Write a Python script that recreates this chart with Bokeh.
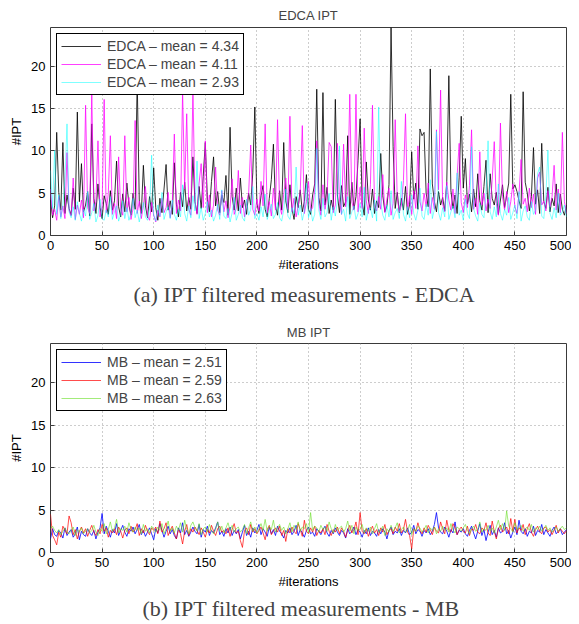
from bokeh.plotting import figure
from bokeh.layouts import column
from bokeh.models import Range1d, Legend, LegendItem, Title, FixedTicker
from bokeh.embed import file_html
from bokeh.resources import INLINE

iterations = list(range(0, 501, 2))
x_ticks = [0, 50, 100, 150, 200, 250, 300, 350, 400, 450, 500]
y_ticks = [0, 5, 10, 15, 20]

edca_labels = ["EDCA \u2013 mean = 4.34", "EDCA \u2013 mean = 4.11", "EDCA \u2013 mean = 2.93"]
mb_labels = ["MB \u2013 mean = 2.51", "MB \u2013 mean = 2.59", "MB \u2013 mean = 2.63"]

edca_black = [
    4.2, 2.1, 3.5, 12.2, 5.1, 3.0, 11.0, 2.6, 4.8, 3.2,
    2.4, 5.6, 3.1, 14.6, 4.0, 8.5, 2.8, 3.6, 5.2, 2.3,
    13.2, 4.4, 2.6, 6.1, 3.3, 2.0, 4.7, 3.8, 2.5, 5.3,
    3.0, 4.1, 8.8, 3.4, 2.2, 4.9, 2.8, 6.2, 3.6, 2.4,
    5.0, 3.1, 18.5, 4.2, 2.6, 8.3, 3.5, 2.1, 4.6, 2.8,
    8.0, 3.3, 1.8, 4.4, 2.7, 5.5, 8.4, 3.0, 4.1, 2.5,
    8.6, 3.7, 2.2, 5.1, 3.4, 6.3, 2.9, 4.5, 3.1, 9.3,
    4.0, 2.6, 5.8, 3.2, 7.0, 11.0, 4.3, 2.8, 6.4, 9.3,
    3.5, 5.2, 2.7, 4.8, 3.9, 7.1, 2.4, 12.8, 4.6, 3.0,
    5.6, 2.9, 6.8, 3.3, 4.2, 2.5, 5.0, 3.6, 7.4, 15.2,
    3.8, 2.6, 4.7, 5.9, 3.1, 2.2, 4.4, 6.6, 10.8, 3.5,
    2.4, 5.3, 3.0, 11.0, 4.1, 2.7, 6.0, 3.2, 1.9, 4.6,
    3.3, 5.4, 2.8, 4.0, 7.2, 3.1, 2.5, 4.8, 6.1, 17.3,
    4.5, 2.9, 16.9, 3.6, 5.7, 2.6, 4.2, 3.0, 16.1, 4.8,
    2.7, 5.9, 3.4, 4.0, 11.8, 2.5, 6.3, 3.1, 4.6, 8.9,
    13.8, 3.9, 2.4, 8.7, 4.2, 3.0, 5.5, 2.6, 4.1, 3.3,
    9.7, 4.7, 2.8, 3.5, 6.0, 24.6, 10.5, 3.2, 5.1, 2.7,
    4.4, 3.0, 5.8, 2.5, 3.7, 9.9, 4.3, 6.2, 3.1, 12.6,
    11.8, 12.2, 5.0, 3.4, 19.7, 6.1, 4.0, 2.8, 5.2, 3.6,
    4.5, 2.9, 6.4, 18.9, 5.3, 3.2, 4.8, 2.6, 6.9, 14.1,
    5.6, 9.1, 3.7, 4.9, 2.8, 5.5, 3.4, 7.3, 4.1, 3.0,
    5.8, 8.9, 2.7, 7.3, 4.4, 3.6, 5.1, 2.5, 4.2, 6.0,
    3.3, 4.7, 6.2, 16.7, 5.5, 6.0, 5.2, 4.1, 3.2, 17.0,
    6.3, 5.0, 2.9, 4.6, 10.4, 3.7, 5.4, 2.6, 10.9, 4.0,
    3.2, 5.7, 2.8, 4.4, 3.5, 6.1, 2.7, 4.9, 3.1, 2.4,
    3.6,
]

edca_magenta = [
    5.5, 2.4, 3.1, 1.8, 4.6, 2.2, 3.5, 2.0, 9.8, 3.0,
    2.3, 6.8, 1.9, 3.6, 2.5, 4.2, 2.1, 15.4, 3.3, 2.6,
    16.8, 2.9, 4.0, 11.2, 2.2, 3.4, 16.1, 2.7, 5.0, 11.8,
    2.5, 3.8, 2.0, 9.3, 3.1, 2.4, 11.8, 2.8, 4.5, 1.9,
    3.2, 13.6, 2.6, 4.1, 2.0, 3.5, 5.8, 2.3, 1.8, 3.9,
    2.4, 1.6, 3.0, 2.2, 4.4, 2.7, 3.3, 5.1, 2.1, 3.7,
    12.0, 2.6, 4.2, 2.9, 17.1, 5.5, 14.4, 3.1, 2.4, 17.3,
    4.0, 2.5, 6.2, 8.5, 3.3, 11.2, 2.7, 4.8, 2.2, 3.6,
    8.1, 3.0, 2.4, 5.3, 2.8, 4.1, 2.1, 3.4, 6.7, 2.5,
    3.2, 7.7, 2.6, 4.5, 2.2, 3.8, 5.0, 10.7, 3.1, 2.4,
    4.3, 2.9, 6.4, 3.5, 13.2, 2.7, 4.0, 2.3, 5.6, 3.0,
    13.7, 3.6, 2.5, 4.9, 6.8, 3.1, 14.1, 2.8, 4.4, 2.2,
    3.5, 5.1, 13.0, 2.6, 4.0, 6.4, 2.9, 3.3, 5.4, 11.2,
    3.8, 2.4, 6.0, 3.1, 4.7, 11.0, 10.5, 2.7, 3.6, 10.9,
    4.2, 2.5, 10.8, 3.4, 5.2, 16.7, 4.0, 3.0, 16.7, 2.8,
    5.7, 3.2, 12.7, 4.1, 2.6, 6.0, 15.4, 3.5, 2.9, 4.6,
    3.1, 7.2, 2.7, 4.3, 5.6, 2.4, 3.8, 13.7, 4.4, 2.8,
    3.6, 6.5, 14.4, 3.0, 4.7, 2.5, 5.3, 3.2, 10.6, 4.0,
    2.9, 5.0, 3.4, 6.2, 2.6, 4.5, 3.1, 12.5, 5.4, 17.2,
    3.7, 2.8, 6.3, 4.2, 3.0, 5.5, 2.6, 7.0, 10.9, 3.9,
    2.7, 4.8, 3.3, 5.9, 12.5, 3.1, 4.4, 2.5, 9.9, 3.6,
    5.0, 2.9, 4.3, 3.2, 6.6, 11.1, 3.8, 2.4, 13.3, 4.6,
    3.0, 5.2, 2.7, 4.0, 6.1, 3.4, 2.6, 5.0, 9.0, 3.7,
    4.4, 2.8, 5.6, 3.3, 4.9, 2.5, 6.8, 7.5, 3.6, 4.1,
    2.9, 5.3, 3.4, 4.6, 8.3, 3.0, 5.5, 2.7, 12.2, 4.0,
    2.6,
]

edca_cyan = [
    7.7, 3.2, 10.1, 2.5, 4.8, 2.0, 3.6, 6.5, 13.2, 2.8,
    2.1, 3.4, 1.8, 4.0, 2.6, 1.7, 3.1, 2.3, 5.2, 1.9,
    2.7, 3.8, 1.6, 2.4, 4.3, 2.0, 1.8, 3.0, 2.2, 4.6,
    1.9, 2.8, 3.5, 1.7, 2.5, 4.1, 2.0, 3.3, 1.8, 2.6,
    4.4, 2.1, 3.0, 1.6, 2.7, 3.9, 2.2, 1.8, 3.2, 9.5,
    2.4, 1.7, 3.6, 2.3, 5.1, 1.9, 2.8, 3.4, 2.0, 4.2,
    2.5, 1.8, 3.1, 2.2, 6.0, 2.6, 1.7, 3.5, 2.1, 4.7,
    2.9, 8.8, 2.0, 3.3, 1.8, 2.6, 4.0, 2.2, 3.0, 1.7,
    2.4, 3.7, 1.9, 5.4, 2.3, 2.0, 3.2, 1.6, 2.7, 4.5,
    1.8, 2.5, 3.6, 2.1, 1.7, 4.3, 2.4, 3.1, 5.8, 2.0,
    2.6, 1.8, 3.4, 2.2, 4.9, 1.9, 2.8, 3.7, 2.0, 2.5,
    3.9, 2.1, 1.7, 3.0, 5.5, 2.3, 1.9, 3.3, 2.6, 8.1,
    2.4, 3.6, 1.8, 2.9, 6.2, 2.1, 3.2, 1.7, 2.5, 10.3,
    3.0, 1.9, 4.4, 2.2, 2.7, 5.0, 1.8, 3.4, 2.3, 4.1,
    10.6, 2.5, 3.1, 1.7, 4.6, 2.0, 2.8, 3.5, 1.9, 2.6,
    3.8, 2.2, 5.7, 1.8, 2.9, 3.3, 2.1, 4.2, 1.7, 15.2,
    4.0, 2.4, 1.8, 3.6, 2.2, 5.3, 1.9, 2.7, 3.2, 2.0,
    6.4, 2.5, 1.7, 3.4, 2.1, 4.8, 2.6, 1.8, 3.0, 5.6,
    2.3, 1.9, 3.7, 2.4, 6.6, 2.0, 3.1, 12.3, 2.7, 1.8,
    3.3, 2.2, 5.9, 1.9, 2.8, 3.5, 2.1, 7.4, 2.4, 3.0,
    1.8, 4.3, 2.6, 2.0, 10.5, 3.2, 2.3, 1.7, 3.8, 2.5,
    2.1, 5.0, 11.2, 2.8, 1.9, 3.4, 2.2, 6.1, 2.6, 1.8,
    3.1, 2.4, 4.5, 1.9, 2.7, 3.6, 2.0, 5.2, 1.7, 2.9,
    3.5, 2.2, 1.8, 4.0, 2.5, 3.0, 7.3, 8.1, 2.3, 2.0,
    4.7, 10.1, 2.6, 1.9, 3.3, 2.1, 5.0, 2.4, 2.8, 3.6,
    2.2,
]

mb_blue = [
    1.6, 2.8, 2.1, 1.9, 2.6, 2.3, 1.7, 2.9, 2.0, 2.4,
    2.7, 1.8, 2.2, 3.0, 1.5, 2.5, 2.1, 1.9, 2.8, 2.3,
    2.0, 2.6, 1.6, 2.4, 2.9, 4.6, 2.2, 3.1, 2.5, 1.8,
    2.7, 2.3, 3.4, 2.0, 2.6, 3.2, 2.4, 1.9, 2.8, 2.5,
    3.0, 2.2, 2.7, 3.3, 2.1, 2.6, 1.9, 2.4, 2.9, 2.2,
    1.5, 2.8, 2.3, 3.4, 2.6, 1.8, 2.5, 3.1, 2.2, 2.7,
    2.0, 1.6, 2.9, 2.3, 3.5, 2.1, 2.6, 1.9, 2.4, 3.0,
    2.5, 2.2, 3.3, 1.8, 2.7, 2.4, 3.1, 2.0, 2.6, 2.3,
    2.9, 3.6, 2.1, 2.5, 1.9, 2.8, 2.3, 3.0, 2.0, 2.6,
    2.2, 2.7, 1.6, 2.4, 3.2, 2.0, 2.5, 1.8, 2.9, 2.3,
    2.6, 3.3, 2.1, 2.8, 2.4, 1.9, 3.0, 2.2, 2.7, 2.0,
    3.1, 2.5, 2.2, 1.7, 2.6, 2.3, 2.9, 2.1, 2.5, 3.2,
    2.0, 2.7, 2.3, 1.8, 2.6, 3.0, 2.2, 2.4, 1.9, 2.8,
    2.5, 2.1, 2.7, 3.1, 2.3, 1.9, 2.6, 2.2, 2.9, 2.4,
    2.0, 2.6, 2.3, 1.7, 2.8, 2.2, 2.5, 3.0, 2.1, 2.7,
    2.4, 1.8, 2.6, 2.2, 2.9, 2.0, 2.5, 2.3, 1.9, 2.7,
    2.2, 2.8, 2.4, 1.6, 2.6, 3.0, 2.1, 2.5, 2.3, 2.8,
    2.0, 2.6, 2.3, 2.9, 2.1, 2.4, 3.2, 2.2, 2.7, 2.5,
    1.9, 2.6, 2.3, 2.8, 2.1, 2.5, 3.3, 4.7, 2.9, 2.4,
    2.2, 3.0, 2.5, 1.8, 2.7, 2.3, 3.6, 2.1, 2.6, 2.4,
    2.8, 2.2, 1.9, 2.6, 3.1, 2.3, 1.6, 2.5, 3.4, 2.0,
    2.7, 1.4, 2.4, 3.2, 2.1, 2.6, 1.8, 2.9, 2.3, 2.5,
    3.5, 2.2, 2.6, 1.7, 2.4, 3.0, 2.1, 3.8, 2.5, 2.2,
    2.8, 1.9, 2.5, 2.3, 3.1, 2.0, 2.6, 2.4, 3.3, 2.1,
    2.7, 2.3, 1.9, 2.6, 3.0, 2.2, 2.5, 2.8, 2.1, 2.4,
    2.7,
]

mb_red = [
    4.5, 2.0, 1.5, 0.9, 2.4, 1.8, 3.1, 2.6, 2.2, 4.3,
    3.5, 2.1, 2.7, 1.6, 2.5, 3.0, 2.3, 2.8, 1.9, 2.6,
    3.2, 2.4, 2.0, 2.7, 2.2, 3.3, 2.5, 2.9, 1.8, 2.6,
    2.3, 2.8, 2.1, 3.0, 2.5, 1.7, 2.6, 2.9, 2.2, 3.1,
    2.4, 2.7, 3.4, 2.0, 2.8, 2.3, 3.2, 2.5, 2.1, 2.9,
    2.6, 3.0, 2.2, 3.7, 2.4, 2.8, 3.5, 2.0, 2.6, 3.1,
    2.3, 1.6, 2.7, 2.2, 1.0, 2.5, 3.3, 2.0, 2.8, 2.4,
    3.0, 2.6, 2.1, 2.9, 2.4, 1.8, 2.7, 2.3, 3.2, 2.5,
    2.0, 2.8, 3.1, 2.4, 2.6, 2.2, 2.9, 1.9, 2.7, 3.4,
    2.3, 2.5, 1.4, 0.6, 2.6, 2.9, 2.1, 3.3, 2.4, 2.8,
    2.2, 2.6, 3.0, 2.3, 1.5, 2.7, 3.2, 2.1, 2.5, 2.9,
    2.4, 3.1, 2.0, 2.6, 1.3, 2.8, 2.3, 3.0, 2.5, 2.2,
    3.4, 2.7, 1.9, 3.8, 2.5, 2.2, 2.9, 2.4, 3.1, 2.0,
    2.6, 2.3, 2.8, 2.1, 3.3, 2.5, 2.0, 2.7, 2.4, 3.0,
    2.2, 2.9, 2.5, 1.8, 2.6, 3.2, 2.3, 2.7, 3.6, 2.1,
    4.7, 2.5, 2.2, 2.8, 1.9, 2.6, 3.1, 2.3, 2.7, 2.0,
    2.9, 2.4, 3.3, 2.1, 2.6, 2.8, 2.2, 3.0, 2.5, 3.4,
    2.3, 2.7, 3.9, 2.4, 2.0, 0.4, 2.8, 2.5, 3.5, 2.6,
    2.2, 2.9, 2.4, 3.2, 2.7, 2.1, 3.0, 2.5, 2.3, 3.6,
    2.8, 2.2, 3.8, 2.6, 2.4, 3.4, 2.9, 2.1, 2.7, 3.0,
    2.5, 2.3, 3.1, 2.0, 2.8, 2.6, 3.3, 2.4, 2.2, 2.9,
    2.6, 3.5, 2.3, 2.0, 3.7, 2.5, 1.6, 2.8, 3.2, 2.4,
    2.7, 3.0, 2.2, 4.0, 2.5, 3.9, 2.3, 2.9, 2.6, 3.3,
    2.1, 2.8, 3.4, 2.4, 1.9, 2.7, 3.1, 2.5, 2.2, 2.9,
    3.0, 2.4, 2.7, 2.1, 2.6, 3.2, 2.3, 2.8, 2.5, 2.2,
    2.6,
]

mb_green = [
    2.8, 3.1, 2.6, 2.3, 2.7, 2.1, 2.5, 2.9, 2.4, 2.2,
    2.6, 3.0, 2.0, 2.7, 2.4, 2.9, 2.2, 2.5, 2.8, 2.3,
    2.6, 3.2, 2.4, 2.0, 2.8, 2.5, 3.4, 2.2, 2.7, 3.6,
    2.5, 2.9, 3.9, 2.3, 2.8, 2.6, 3.1, 2.4, 3.5, 2.7,
    2.4, 3.0, 2.6, 2.9, 2.2, 3.3, 2.5, 2.8, 2.3, 3.1,
    2.7, 2.4, 3.0, 2.6, 3.4, 2.2, 2.8, 3.7, 2.5, 2.9,
    2.3, 3.1, 2.6, 3.5, 2.4, 3.8, 2.7, 2.2, 3.2, 3.6,
    2.9, 2.5, 3.4, 2.1, 2.8, 3.0, 2.4, 3.3, 2.6, 2.2,
    2.7, 3.6, 2.5, 3.1, 2.3, 2.9, 3.5, 2.6, 3.2, 2.4,
    2.8, 3.0, 2.4, 2.7, 3.3, 2.2, 2.9, 3.6, 2.5, 3.0,
    2.3, 2.8, 3.4, 2.6, 3.9, 2.5, 3.1, 2.7, 3.8, 2.4,
    2.9, 3.3, 2.6, 3.0, 2.2, 2.8, 3.5, 2.4, 3.2, 2.7,
    3.6, 2.5, 3.0, 2.8, 3.4, 2.3, 4.7, 2.6, 3.1, 2.9,
    2.4, 3.2, 2.7, 3.0, 2.5, 3.6, 2.8, 2.3, 3.3, 2.6,
    2.9, 3.1, 2.4, 2.8, 3.7, 2.5, 3.2, 2.2, 3.0, 2.6,
    2.7, 3.3, 2.3, 2.9, 2.5, 3.0, 2.2, 2.8, 3.4, 2.4,
    2.6, 3.1, 2.0, 2.8, 2.4, 3.2, 2.5, 2.9, 3.5, 2.3,
    2.7, 3.0, 2.4, 2.6, 3.3, 2.1, 2.8, 2.5, 3.1, 2.9,
    2.4, 2.7, 3.2, 2.3, 2.9, 2.6, 3.0, 2.2, 2.8, 2.5,
    3.1, 2.6, 2.9, 2.4, 3.4, 2.7, 2.3, 3.0, 2.8, 2.5,
    2.9, 3.3, 2.6, 2.2, 2.8, 3.1, 2.5, 2.7, 3.6, 2.4,
    2.8, 2.6, 3.2, 2.5, 2.9, 2.3, 3.0, 3.8, 2.7, 3.4,
    2.6, 4.9, 3.1, 2.8, 2.4, 3.5, 2.7, 2.9, 3.2, 2.5,
    2.8, 3.0, 2.6, 3.3, 2.4, 2.9, 2.7, 3.1, 2.5, 2.8,
    3.2, 2.6, 2.9, 2.4, 2.7, 3.0, 2.5, 2.8, 3.1, 2.7,
    2.9,
]

FONT = "Liberation Sans"


def make_fig(title, caption, series, colors, alphas, labels, height,
             border_top, border_bottom, title_standoff, cap_offset, cap_standoff):
    p = figure(width=571, height=height, output_backend="svg", toolbar_location=None,
               x_range=Range1d(0, 500), y_range=Range1d(0, 24.6),
               min_border_left=50, min_border_right=5,
               min_border_top=border_top, min_border_bottom=border_bottom,
               x_axis_label="#iterations", y_axis_label="#IPT")
    p.title.text = title
    p.title.text_font = FONT
    p.title.text_font_size = "13px"
    p.title.text_font_style = "normal"
    p.title.align = "center"
    p.title.standoff = title_standoff

    p.outline_line_color = "#3a3a3a"
    p.outline_line_width = 1
    p.outline_line_alpha = 1
    p.background_fill_color = "white"
    p.border_fill_color = "white"

    p.xaxis.ticker = FixedTicker(ticks=x_ticks)
    p.yaxis.ticker = FixedTicker(ticks=y_ticks)
    for ax in p.axis:
        ax.axis_line_color = None
        ax.major_tick_in = 4
        ax.major_tick_out = 0
        ax.major_tick_line_color = "#3a3a3a"
        ax.minor_tick_line_color = None
        ax.major_label_text_font = FONT
        ax.major_label_text_font_size = "13px"
        ax.major_label_text_color = "black"
        ax.major_label_standoff = 5
        ax.axis_label_text_font = FONT
        ax.axis_label_text_font_size = "13px"
        ax.axis_label_text_font_style = "normal"
        ax.axis_label_text_color = "black"
        ax.axis_label_standoff = 4

    for g in (p.xgrid, p.ygrid):
        g.grid_line_color = "#9a9a9a"
        g.grid_line_dash = "1 3"
        g.grid_line_width = 1

    items = []
    for ys, c, a, lab in zip(series, colors, alphas, labels):
        r = p.line(iterations, ys, line_color=c, line_alpha=a, line_width=1)
        items.append(LegendItem(label=lab, renderers=[r]))

    legend = Legend(items=items, location="top_left", margin=6, padding=4, spacing=2,
                    label_height=16, glyph_height=16, glyph_width=40, label_standoff=6,
                    border_line_color="black", border_line_width=1, border_line_alpha=1,
                    background_fill_color="white", background_fill_alpha=1,
                    label_text_font=FONT, label_text_font_size="14px")
    p.add_layout(legend)

    cap = Title(text=caption, align="left", text_font="Liberation Serif",
                text_font_size="22px", text_font_style="normal", offset=cap_offset,
                standoff=cap_standoff)
    p.add_layout(cap, "below")
    return p


p1 = make_fig("EDCA IPT", "(a) IPT filtered measurements - EDCA",
              [edca_black, edca_magenta, edca_cyan],
              ["#000000", "#ff00ff", "#00ffff"], [0.8, 0.75, 0.5],
              edca_labels, 312, 27, 75, 9, 83, 11)
p2 = make_fig("MB IPT", "(b) IPT filtered measurements - MB",
              [mb_blue, mb_red, mb_green],
              ["#0000ff", "#ff0000", "#66dd22"], [0.8, 0.7, 0.6],
              mb_labels, 310, 31, 69, 8, 92, 4)

layout = column(p1, p2, spacing=0)
open("out.html", "w").write(file_html(layout, INLINE))
